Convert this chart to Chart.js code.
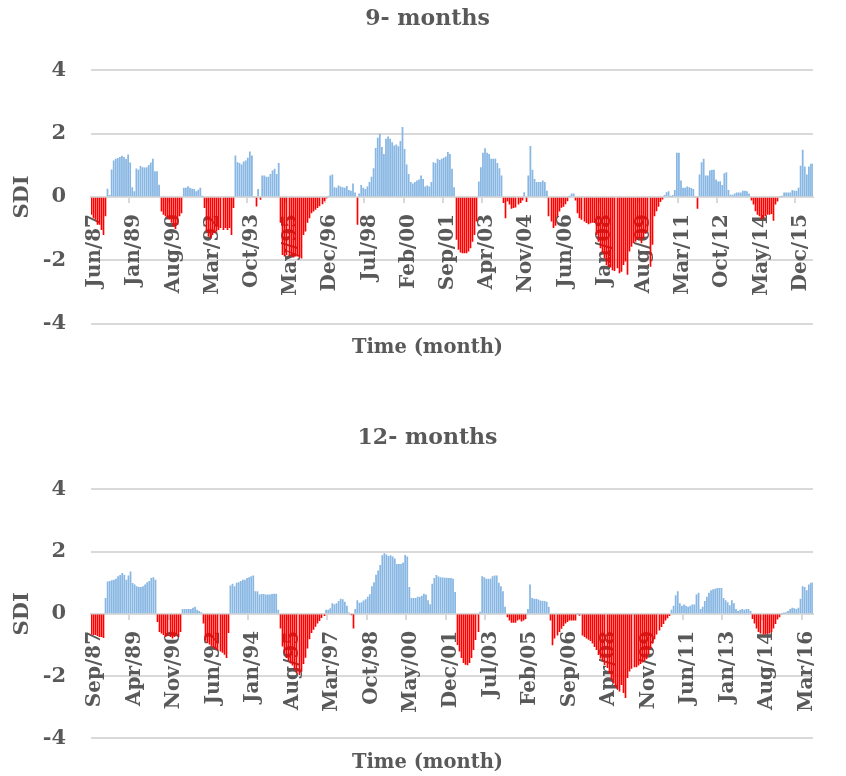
<!DOCTYPE html>
<html>
<head>
<meta charset="utf-8">
<script src="https://cdn.jsdelivr.net/npm/chart.js@4/dist/chart.umd.min.js"></script>
<style>
  html, body { margin: 0; padding: 0; background: #ffffff; overflow: hidden; width: 846px; height: 776px; }
  .panel { position: absolute; left: 0; width: 849px; }
  #p9  { top: 0;     height: 366px; }
  #p12 { top: 419px; height: 357px; }
</style>
</head>
<body>
<div class="panel" id="p9"><canvas id="c9"></canvas></div>
<div class="panel" id="p12"><canvas id="c12"></canvas></div>
<script>
// Monthly SDI values, 9-month window (Jun/87 onward)
const sdi9 = [
  -0.55,-0.66,-0.71,-0.87,-0.87,-1.03,-1.19,-0.6,
  0.25,0.05,
  0.86,1.14,1.2,1.22,1.25,1.29,1.25,1.19,1.33,1.08,0.3,0.17,0.89,0.85,0.97,0.93,0.92,0.93,1.0,1.08,1.2,0.8,0.8,0.38,
  -0.45,-0.55,-0.6,-0.66,-0.7,-0.8,-0.92,-1.0,-0.87,-0.6,-0.5,
  0.28,0.28,0.33,0.28,0.25,0.24,0.17,0.22,0.28,
  0.02,
  -0.34,-1.08,-1.24,-1.29,-1.19,-1.13,-1.08,-1.03,-0.97,-1.03,-0.97,-1.03,-0.97,-1.19,-0.34,
  1.3,1.09,1.06,1.02,1.11,1.14,1.23,1.43,1.3,
  0.0,-0.29,0.24,-0.08,
  0.67,0.67,0.63,0.63,0.72,0.83,0.88,0.72,1.06,
  -0.8,-1.82,-1.87,-1.82,-1.87,-1.84,-1.9,-1.87,-1.87,-1.9,-1.93,-1.19,-1.08,-0.8,-0.66,-0.5,-0.45,-0.39,-0.34,-0.28,-0.22,-0.12,
  -0.04,0.03,
  0.67,0.7,0.3,0.28,0.35,0.32,0.3,0.28,0.34,0.21,0.19,0.42,0.13,
  -0.87,0.1,
  0.37,0.28,0.24,0.32,0.46,0.63,0.9,1.54,1.86,1.99,1.57,1.35,1.83,1.9,1.83,1.72,1.62,1.65,1.59,1.76,2.2,1.51,1.02,0.72,0.46,
  0.42,0.46,0.51,0.54,0.67,0.56,0.32,0.35,0.32,0.46,1.09,1.06,1.2,1.16,1.2,1.23,1.27,1.41,1.35,0.88,0.3,
  -1.34,-1.66,-1.74,-1.77,-1.77,-1.77,-1.71,-1.61,-1.4,-1.19,-0.76,
  0.48,0.93,1.39,1.53,1.39,1.35,1.2,1.2,1.2,1.06,0.9,0.67,
  -0.18,-0.66,-0.13,-0.23,-0.36,-0.34,-0.32,-0.23,-0.18,-0.1,0.14,-0.15,
  0.67,1.6,0.85,0.56,0.46,0.46,0.46,0.51,0.46,0.19,
  -0.6,-0.76,-0.97,-0.9,-0.6,-0.45,-0.33,-0.3,-0.22,-0.12,
  0.02,0.1,0.1,
  -0.1,-0.5,-0.66,-0.71,-0.76,-0.81,-0.85,-0.82,-0.8,-0.81,-1.19,-1.4,-1.61,-1.77,-1.93,-2.14,-2.19,-2.22,-2.3,-2.33,-2.24,-2.4,-2.35,-2.14,-2.03,-2.45,
  -1.71,-1.56,-1.45,-1.4,-1.35,-1.29,-1.45,-1.3,-1.15,-1.08,-2.19,-1.5,-0.6,-0.44,-0.3,-0.15,-0.07,
  0.05,0.14,0.17,0.03,0.05,0.21,1.39,1.39,0.51,0.28,0.28,0.32,0.3,0.27,0.24,
  0.0,-0.36,
  0.7,1.09,1.2,0.67,0.67,0.83,0.85,0.85,0.54,0.48,0.49,0.37,0.74,0.77,0.21,0.06,0.06,0.1,0.13,0.13,0.13,0.19,0.19,0.17,0.1,
  -0.1,-0.23,-0.44,-0.55,-0.6,-0.71,-0.66,-0.6,-0.55,-0.55,-0.53,-0.74,-0.23,-0.13,
  0.0,0.03,0.13,0.13,0.13,0.13,0.21,0.19,0.19,0.28,0.98,1.48,0.95,0.7,0.95,1.04,1.05
];

// Monthly SDI values, 12-month window (Sep/87 onward)
const sdi12 = [
  -0.65,-0.67,-0.67,-0.7,-0.73,-0.73,-0.76,
  0.5,1.03,1.05,1.07,1.09,1.12,1.2,1.24,1.3,1.25,1.09,1.22,1.35,0.98,0.93,0.88,0.85,0.85,0.88,0.93,1.01,1.05,1.14,1.17,1.09,
  -0.25,-0.57,-0.62,-0.67,-0.73,-0.7,-0.73,-0.78,-0.73,-0.65,-0.73,-0.57,
  0.15,0.15,0.15,0.15,0.15,0.19,0.22,0.12,0.08,0.04,
  -0.3,-0.85,-0.92,-0.97,-1.02,-1.08,-1.12,-1.16,-1.2,-1.24,-1.3,-1.41,-0.6,
  0.9,0.96,0.88,0.99,1.01,1.05,1.09,1.09,1.14,1.17,1.2,1.22,0.72,0.72,0.61,0.63,0.63,0.61,0.61,0.61,0.63,0.64,0.64,0.12,
  -0.46,-1.04,-1.25,-1.41,-1.5,-1.58,-1.65,-1.78,-1.9,-1.95,-1.85,-1.6,-1.4,-1.1,-0.8,-0.6,-0.5,-0.4,-0.3,-0.22,-0.12,-0.06,
  0.12,0.12,0.17,0.33,0.3,0.33,0.4,0.48,0.46,0.38,0.25,0.03,-0.03,-0.46,0.15,0.43,0.35,0.36,0.42,0.46,0.54,0.62,0.88,1.01,
  1.25,1.38,1.56,1.87,1.94,1.9,1.85,1.87,1.83,1.77,1.59,1.59,1.59,1.64,1.88,1.83,0.85,0.5,0.5,0.5,0.54,0.54,0.57,0.64,0.61,
  0.43,0.3,0.96,1.14,1.24,1.19,1.17,1.16,1.15,1.15,1.14,1.14,1.12,0.69,
  -0.99,-1.2,-1.41,-1.57,-1.62,-1.64,-1.57,-1.41,-1.15,-0.83,-0.57,
  0.06,1.2,1.17,1.12,1.12,1.12,1.2,1.22,1.22,0.99,0.88,0.72,0.22,
  -0.1,-0.2,-0.27,-0.27,-0.27,-0.2,-0.17,-0.23,-0.2,-0.15,
  0.15,0.93,0.5,0.48,0.48,0.45,0.42,0.4,0.4,0.38,0.22,
  -0.2,-1.0,-0.78,-0.68,-0.57,-0.47,-0.38,-0.3,-0.25,-0.2,-0.2,-0.2,-0.2,
  0.0,-0.05,
  -0.68,-0.73,-0.78,-0.82,-0.86,-0.94,-1.05,-1.15,-1.31,-1.42,-1.52,-1.63,-1.73,-1.9,-2.1,-2.21,-2.32,-2.4,-2.48,-2.27,-2.53,-2.69,
  -2.05,-1.84,-1.75,-1.7,-1.7,-1.65,-1.6,-1.55,-1.5,-1.45,-1.3,-1.1,-0.95,-0.8,-0.65,-0.52,-0.41,-0.31,-0.2,-0.13,-0.06,
  0.12,0.25,0.59,0.72,0.33,0.25,0.29,0.25,0.22,0.25,0.29,0.29,0.61,0.67,0.15,0.22,0.4,0.54,0.67,0.75,0.78,0.8,0.82,0.82,0.82,
  0.5,0.43,0.36,0.27,0.43,0.33,0.15,0.08,0.12,0.15,0.12,0.15,0.15,0.08,
  -0.15,-0.3,-0.46,-0.57,-0.62,-0.65,-0.65,-0.62,-0.62,-0.57,-0.46,-0.31,-0.17,-0.1,
  0.0,0.02,0.04,0.08,0.15,0.19,0.17,0.15,0.19,0.48,0.88,0.85,0.75,0.93,0.99,1.0
];

// Labelled ticks on the time axis (every 19th month)
const ticks9  = ['Jun/87','Jan/89','Aug/90','Mar/92','Oct/93','May/95','Dec/96','Jul/98','Feb/00','Sep/01',
                 'Apr/03','Nov/04','Jun/06','Jan/08','Aug/09','Mar/11','Oct/12','May/14','Dec/15'];
const ticks12 = ['Sep/87','Apr/89','Nov/90','Jun/92','Jan/94','Aug/95','Mar/97','Oct/98','May/00','Dec/01',
                 'Jul/03','Feb/05','Sep/06','Apr/08','Nov/09','Jun/11','Jan/13','Aug/14','Mar/16'];

const MONTHS = ['Jan','Feb','Mar','Apr','May','Jun','Jul','Aug','Sep','Oct','Nov','Dec'];

// Month categories "Mon/YY" starting at a given year / month index
function monthCategories(year, month, count) {
  const out = [];
  for (let i = 0; i < count; i++) {
    const m = (month + i) % 12;
    const y = year + Math.floor((month + i) / 12);
    out.push(MONTHS[m] + '/' + String(y % 100).padStart(2, '0'));
  }
  return out;
}

const months9  = monthCategories(1987, 5, sdi9.length);
const months12 = monthCategories(1987, 8, sdi12.length);

const FONT = 'DejaVu Serif';
const TEXT = '#595959';
const GRID = '#d9d9d9';
const POS = '#88b7e3';
const NEG = '#ff0000';

// Snap the thin drought (negative) bars onto whole pixels so they stay crisp
const crispNegatives = {
  id: 'crispNegatives',
  beforeDatasetsDraw(chart) {
    const meta = chart.getDatasetMeta(0);
    const vals = chart.data.datasets[0].data;
    meta.data.forEach((bar, i) => {
      if (vals[i] < 0) {
        bar.x = Math.floor(bar.x) + 0.5;
        bar.width = 1;
      }
    });
  }
};

function makePanel(canvasId, title, categories, values, tickLabels, subPadBottom) {
  const labelled = new Set(tickLabels);
  return new Chart(document.getElementById(canvasId), {
    type: 'bar',
    data: {
      labels: categories,
      datasets: [{
        data: values,
        backgroundColor: ctx => (ctx.raw < 0 ? NEG : POS),
        borderWidth: 0,
        barThickness: 1.1
      }]
    },
    plugins: [crispNegatives],
    options: {
      responsive: true,
      maintainAspectRatio: false,
      animation: false,
      layout: { padding: { left: 6, right: 0, top: 0, bottom: 0 } },
      plugins: {
        legend: { display: false },
        tooltip: { enabled: false },
        title: {
          display: true, text: title, color: TEXT,
          font: { family: FONT, size: 22, weight: 'bold' },
          padding: { top: 6, bottom: 38 }
        },
        subtitle: {
          display: true, position: 'bottom', text: 'Time (month)', color: TEXT,
          font: { family: FONT, size: 19.5, weight: 'bold' },
          padding: { top: 13, bottom: subPadBottom }
        }
      },
      scales: {
        x: {
          type: 'category',
          position: { y: 0 },
          offset: false,
          z: 1,
          grid: {
            drawOnChartArea: false,
            drawTicks: true,
            tickLength: 5,
            lineWidth: 2,
            tickColor: ctx => (labelled.has(categories[ctx.index]) ? GRID : 'rgba(0,0,0,0)')
          },
          border: { display: true, color: GRID, width: 2 },
          ticks: {
            autoSkip: false,
            minRotation: 90,
            maxRotation: 90,
            padding: 12,
            labelOffset: 4,
            color: TEXT,
            font: { family: FONT, size: 20, weight: 'bold' },
            callback: (v, i) => (labelled.has(categories[i]) ? categories[i] : '')
          }
        },
        y: {
          min: -4, max: 4,
          grid: { color: GRID, lineWidth: 2, drawTicks: false },
          border: { display: false },
          ticks: {
            stepSize: 2, padding: 25, color: TEXT,
            font: { family: FONT, size: 21, weight: 'bold' }
          },
          title: {
            display: true, text: 'SDI', color: TEXT,
            font: { family: FONT, size: 21, weight: 'bold' }
          },
          afterFit: scale => { scale.width = 85; }
        }
      }
    }
  });
}

makePanel('c9', '9- months', months9, sdi9, ticks9, 6);
makePanel('c12', '12- months', months12, sdi12, ticks12, 0);
</script>
</body>
</html>
